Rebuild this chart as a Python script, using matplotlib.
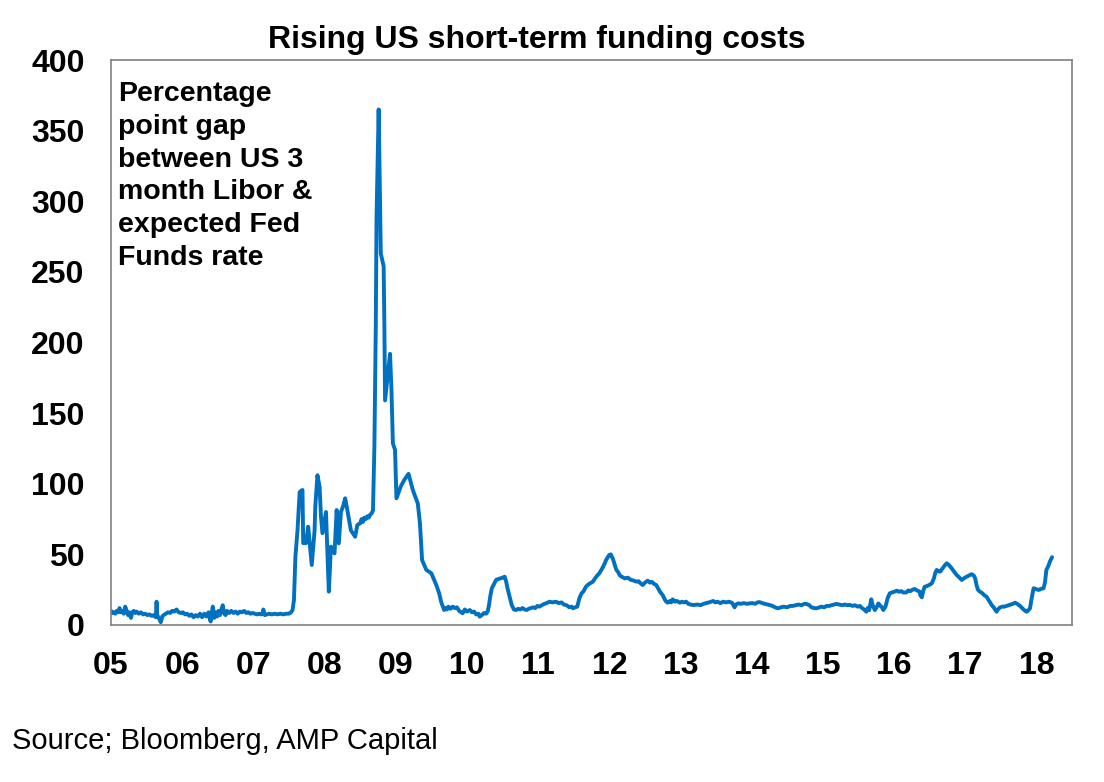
import matplotlib
matplotlib.use("Agg")
import matplotlib.pyplot as plt

plt.rcParams['font.family'] = ['Liberation Sans', 'DejaVu Sans']

# Spread (percentage-point gap, shown in basis points),
# split by period; dates are decimal years.
dates_2005_07 = [
    2005.00, 2005.02, 2005.04, 2005.06, 2005.08, 2005.10, 2005.12, 2005.14, 2005.16, 2005.18,
    2005.20, 2005.22, 2005.24, 2005.26, 2005.28, 2005.30, 2005.32, 2005.34, 2005.36, 2005.39,
    2005.42, 2005.45, 2005.48, 2005.51, 2005.54, 2005.57, 2005.60, 2005.63, 2005.64, 2005.65,
    2005.67, 2005.70, 2005.72, 2005.74, 2005.77, 2005.80, 2005.83, 2005.86, 2005.89, 2005.92,
    2005.95, 2005.98, 2006.01, 2006.04, 2006.07, 2006.10, 2006.13, 2006.16, 2006.19, 2006.22,
    2006.25, 2006.28, 2006.31, 2006.34, 2006.37, 2006.39, 2006.40, 2006.42, 2006.43, 2006.45,
    2006.47, 2006.49, 2006.51, 2006.53, 2006.55, 2006.57, 2006.59, 2006.61, 2006.63, 2006.66,
    2006.69, 2006.72, 2006.75, 2006.78, 2006.81, 2006.84, 2006.87, 2006.90, 2006.93, 2006.96,
    2006.99, 2007.02, 2007.05, 2007.08, 2007.11, 2007.13, 2007.14, 2007.16, 2007.19, 2007.22,
    2007.26, 2007.30, 2007.34, 2007.38, 2007.42, 2007.46, 2007.50, 2007.53, 2007.55,
]
spread_2005_07 = [
    10, 8.5, 9, 8, 10, 9, 12, 9, 10, 8,
    13, 10, 7, 9, 5, 9, 10, 8.5, 9.5, 8,
    9, 7.5, 8, 7, 7.5, 6.5, 7, 5.5, 16.5, 7,
    5, 2, 6, 7, 8, 9, 8.5, 10, 9.5, 11,
    9, 8.5, 9, 7.5, 8, 6.5, 7.5, 5.5, 7, 6,
    8, 5.5, 8, 6, 9, 4, 2.5, 10, 13, 5,
    9, 6, 10, 7, 11, 14, 8, 7, 10, 8.5,
    10, 8.5, 9.5, 8, 9.5, 9, 10, 8.5, 9, 8,
    8.5, 8, 7.5, 8, 7.5, 8, 11, 7, 7.5, 8,
    7.5, 8, 7.5, 8, 7.5, 8, 8, 9, 10.6,
]

dates_crisis = [
    2007.57, 2007.59, 2007.62, 2007.65, 2007.67, 2007.69, 2007.70, 2007.74, 2007.77, 2007.82,
    2007.86, 2007.87, 2007.90, 2007.93, 2007.95, 2007.97, 2008.02, 2008.06, 2008.09, 2008.14,
    2008.17, 2008.20, 2008.23, 2008.26, 2008.29, 2008.32, 2008.37, 2008.43, 2008.46, 2008.50,
    2008.52, 2008.54, 2008.56, 2008.58, 2008.60, 2008.62, 2008.64, 2008.66, 2008.68, 2008.70,
    2008.72, 2008.73, 2008.76, 2008.79, 2008.83, 2008.84, 2008.85, 2008.89, 2008.92, 2008.94,
    2008.96, 2008.99, 2009.01, 2009.07, 2009.12, 2009.18, 2009.24, 2009.31, 2009.34, 2009.37,
    2009.43, 2009.50, 2009.57,
]
spread_crisis = [
    17.6, 48, 67, 94, 95, 95.6, 58, 58, 69.6, 42.5,
    67, 84, 106, 98, 76.7, 65, 80, 23.6, 55.5, 50.7,
    81.4, 57.8, 80, 84, 89.7, 81.4, 67, 62.5, 70.8, 72,
    75, 73, 76, 75, 77, 76, 78, 79, 81, 126,
    213, 288, 365, 263, 254, 213.6, 159, 178, 192, 166,
    128.6, 124, 89.7, 98, 102.7, 107, 95.6, 86, 72, 46,
    39, 36.6, 28.3,
]

dates_2009_12 = [
    2009.61, 2009.64, 2009.68, 2009.70, 2009.72, 2009.74, 2009.77, 2009.80, 2009.83, 2009.86,
    2009.89, 2009.92, 2009.94, 2009.97, 2010.00, 2010.04, 2010.07, 2010.10, 2010.13, 2010.16,
    2010.18, 2010.21, 2010.24, 2010.27, 2010.29, 2010.31, 2010.33, 2010.35, 2010.38, 2010.41,
    2010.44, 2010.47, 2010.50, 2010.53, 2010.55, 2010.57, 2010.60, 2010.63, 2010.66, 2010.69,
    2010.72, 2010.75, 2010.78, 2010.81, 2010.84, 2010.87, 2010.90, 2010.93, 2010.96, 2010.99,
    2011.02, 2011.05, 2011.09, 2011.12, 2011.16, 2011.20, 2011.25, 2011.29, 2011.33, 2011.36,
    2011.40, 2011.44, 2011.47, 2011.49, 2011.52, 2011.55, 2011.58, 2011.61, 2011.64, 2011.67,
    2011.70, 2011.73, 2011.77, 2011.80, 2011.83, 2011.86, 2011.90, 2011.93, 2011.96, 2012.00,
    2012.02, 2012.05, 2012.08, 2012.10, 2012.12, 2012.15, 2012.18, 2012.22, 2012.26, 2012.30,
    2012.34, 2012.38, 2012.41, 2012.44, 2012.47, 2012.50, 2012.54, 2012.57, 2012.60, 2012.63,
    2012.66, 2012.69, 2012.72, 2012.75, 2012.78, 2012.80, 2012.82, 2012.85, 2012.87, 2012.89,
    2012.92, 2012.95, 2012.99,
]
spread_2009_12 = [
    22.4, 16, 10.6, 12, 11, 13, 11.5, 13, 12, 12.5,
    10, 9, 8.3, 11, 9.5, 10.6, 9, 9.5, 7.5, 8,
    5.9, 7, 8.5, 8, 9.4, 14, 21, 26, 29, 31.9,
    32.5, 33, 33.5, 34.2, 31, 26, 20, 14, 11, 10.6,
    11.5, 11, 12, 11, 10.6, 11.5, 12, 12.5, 12, 13.5,
    13, 14, 15, 15.5, 16.5, 16, 16.5, 15.5, 16, 14.5,
    14, 12.5, 13, 11.8, 12.5, 13, 19, 22.4, 24, 27,
    28.5, 29.5, 30.7, 33, 35, 36.6, 40, 43, 46.5, 49.6,
    50, 47, 42, 39, 37.8, 35, 34, 33, 33.5, 32,
    31.5, 30.7, 31, 29.5, 28.3, 30, 31.4, 30, 30.5, 29,
    28.3, 25.5, 23, 21.2, 18, 16.5, 15.8, 17, 16, 18.2,
    16.5, 17, 15.8,
]

dates_2013_15 = [
    2013.02, 2013.05, 2013.08, 2013.11, 2013.14, 2013.17, 2013.20, 2013.24, 2013.28, 2013.32,
    2013.36, 2013.40, 2013.43, 2013.46, 2013.49, 2013.52, 2013.56, 2013.60, 2013.64, 2013.68,
    2013.72, 2013.74, 2013.76, 2013.78, 2013.81, 2013.85, 2013.89, 2013.93, 2013.97, 2014.01,
    2014.05, 2014.08, 2014.11, 2014.15, 2014.18, 2014.22, 2014.25, 2014.29, 2014.33, 2014.37,
    2014.41, 2014.45, 2014.50, 2014.54, 2014.58, 2014.62, 2014.66, 2014.70, 2014.74, 2014.77,
    2014.81, 2014.84, 2014.88, 2014.91, 2014.95, 2014.98, 2015.02, 2015.05, 2015.09, 2015.12,
    2015.16, 2015.19, 2015.23, 2015.27, 2015.31, 2015.34, 2015.38, 2015.42, 2015.45, 2015.49,
    2015.52, 2015.55, 2015.58, 2015.61, 2015.63, 2015.65, 2015.68, 2015.70, 2015.73, 2015.75,
    2015.78, 2015.80, 2015.83, 2015.85, 2015.88, 2015.91, 2015.94, 2015.97,
]
spread_2013_15 = [
    16.5, 16, 16.5, 15, 14.5, 14.2, 14.2, 14.5, 14, 14.9,
    15.5, 16, 16.5, 17, 16, 16.5, 15.5, 16.5, 16, 16.5,
    15.8, 14.5, 12.5, 14.5, 15.3, 15, 15.5, 15, 15.3, 15.5,
    15, 16, 16.2, 15.5, 15, 14.5, 14.2, 13.5, 12.5, 11.8,
    12.5, 13, 12.5, 13.5, 13.5, 14, 14.5, 14, 15, 14.9,
    14, 12.5, 12, 11.8, 12.5, 13, 12.5, 13.5, 13.5, 14,
    14.5, 14.9, 14.5, 14, 14.5, 14, 14.2, 13.5, 14, 13,
    13.5, 12, 11, 9.4, 12, 10.5, 18.2, 14, 10.6, 12,
    15.3, 14, 12.5, 10.6, 13, 19, 22.4, 23,
]

dates_2016_18 = [
    2016.00, 2016.04, 2016.07, 2016.10, 2016.13, 2016.17, 2016.20, 2016.23, 2016.26, 2016.29,
    2016.32, 2016.36, 2016.37, 2016.39, 2016.41, 2016.43, 2016.46, 2016.50, 2016.53, 2016.56,
    2016.58, 2016.60, 2016.62, 2016.65, 2016.68, 2016.71, 2016.74, 2016.77, 2016.81, 2016.84,
    2016.88, 2016.91, 2016.95, 2016.98, 2017.02, 2017.05, 2017.09, 2017.12, 2017.14, 2017.16,
    2017.18, 2017.21, 2017.24, 2017.27, 2017.30, 2017.33, 2017.35, 2017.37, 2017.40, 2017.42,
    2017.44, 2017.46, 2017.49, 2017.52, 2017.55, 2017.58, 2017.61, 2017.64, 2017.67, 2017.70,
    2017.73, 2017.77, 2017.80, 2017.83, 2017.86, 2017.88, 2017.91, 2017.93, 2017.96, 2017.99,
    2018.03, 2018.06, 2018.10, 2018.12, 2018.14, 2018.17, 2018.19, 2018.22,
]
spread_2016_18 = [
    23.5, 24.3, 23.5, 24, 23, 23, 24.5, 24, 25, 25.5,
    24.5, 23.6, 21, 19.6, 24, 27.1, 27.5, 28.5, 29.5, 33,
    37, 39, 38, 37.8, 40, 42, 43.7, 42.5, 40.1, 38,
    35.4, 34, 31.9, 33, 34.2, 35, 36, 35, 33, 28,
    24.8, 23.5, 22.5, 21, 20, 17.5, 16, 14.2, 12.5, 11,
    9.4, 11, 12.5, 13, 13, 13.5, 14, 14.5, 15, 15.8,
    15, 13.5, 12, 10.5, 9.4, 10, 11.8, 18, 26, 25.5,
    24.8, 25.5, 26, 30, 39, 42, 45, 48,
]

dates = dates_2005_07 + dates_crisis + dates_2009_12 + dates_2013_15 + dates_2016_18
spread = spread_2005_07 + spread_crisis + spread_2009_12 + spread_2013_15 + spread_2016_18

tick_years = list(range(2005, 2019))
tick_labels = ['05', '06', '07', '08', '09', '10', '11', '12', '13', '14', '15', '16', '17', '18']
y_ticks = [0, 50, 100, 150, 200, 250, 300, 350, 400]

title = 'Rising US short-term funding costs'
note = 'Percentage\npoint gap\nbetween US 3\nmonth Libor &\nexpected Fed\nFunds rate'
source = 'Source; Bloomberg, AMP Capital'

fig = plt.figure(figsize=(11.04, 7.82), dpi=100)
ax = fig.add_axes([111/1104, 1 - 625/782, (1072 - 111)/1104, (625 - 60)/782])

ax.plot(dates, spread, color='#0070C0', linewidth=2.8,
        solid_joinstyle='round', solid_capstyle='round')

ax.set_xlim(2005, 2018.5)
ax.set_ylim(0, 400)
ax.set_xticks(tick_years)
ax.set_xticklabels(tick_labels)
ax.set_yticks(y_ticks)
ax.tick_params(axis='both', length=0, labelsize=23, pad=19)
for lbl in ax.get_xticklabels() + ax.get_yticklabels():
    lbl.set_fontweight('bold')
for sp in ax.spines.values():
    sp.set_color('#808080')
    sp.set_linewidth(1.2)

fig.text(537/1104, 1 - 48/782, title, ha='center', va='baseline',
         fontsize=23, fontweight='bold')
fig.text(118/1104, 1 - 81/782, note, ha='left', va='top',
         fontsize=20.5, fontweight='bold', linespacing=1.34)
fig.text(12/1104, 1 - 749/782, source, ha='left', va='baseline', fontsize=21)

fig.savefig('out.png', dpi=100)
